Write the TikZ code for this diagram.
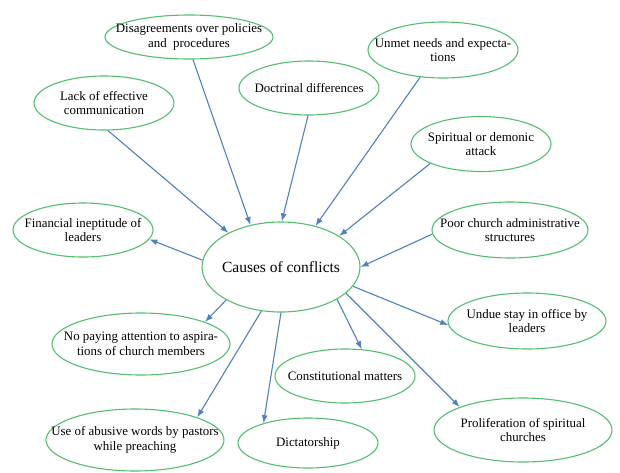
\documentclass[tikz,border=0pt]{standalone}
\usepackage{fontspec}
\setmainfont{Liberation Serif}
\usetikzlibrary{shapes,arrows.meta}
\definecolor{causegreen}{RGB}{84,190,110}
\definecolor{arrowblue}{RGB}{79,129,189}

\begin{document}
\begin{tikzpicture}[x=1pt,y=-1pt,>={Latex[length=8pt,width=6pt]},
		cause/.style={ellipse,draw=causegreen,line width=1.1pt,inner sep=-30pt,align=center,
			font=\rmfamily\fontsize{12.9}{14.5}\selectfont},
		link/.style={->,arrowblue,line width=1.1pt}]
		\useasboundingbox (0,0) rectangle (620,472);
		% centre
		\node[cause,minimum width=158pt,minimum height=90pt,font=\rmfamily\fontsize{15.5}{18}\selectfont] (conflicts) at (281,267) {Causes of conflicts};
		% causes above
		\node[cause,minimum width=168pt,minimum height=44pt] (disagree)   at (189,37)  {Disagreements over policies\\and~ procedures};
		\node[cause,minimum width=140pt,minimum height=54pt] (lackcomm)   at (104,103) {Lack of effective\\communication};
		\node[cause,minimum width=140pt,minimum height=54pt] (doctrinal)  at (309,88)  {Doctrinal differences};
		\node[cause,minimum width=150pt,minimum height=56pt] (unmet)      at (443,50)  {Unmet needs and expecta-\\tions};
		\node[cause,minimum width=140pt,minimum height=55pt] (spiritual)  at (481,144) {Spiritual or demonic\\attack};
		\node[cause,minimum width=156pt,minimum height=56pt] (poorstruct) at (510,230) {Poor church administrative\\structures};
		% causes below
		\node[cause,minimum width=140pt,minimum height=54pt] (financial)  at (83,230)  {Financial ineptitude of\\leaders};
		\node[cause,minimum width=178pt,minimum height=62pt] (nopaying)   at (141,344) {No paying attention to aspira-\\tions of church members};
		\node[cause,minimum width=178pt,minimum height=62pt] (abusive)    at (135,440) {Use of abusive words by pastors\\while preaching};
		\node[cause,minimum width=140pt,minimum height=50pt] (dictator)   at (308,443) {Dictatorship};
		\node[cause,minimum width=140pt,minimum height=54pt] (constitut)  at (345,376) {Constitutional matters};
		\node[cause,minimum width=158pt,minimum height=56pt] (undue)      at (527,321) {Undue stay in office by\\leaders};
		\node[cause,minimum width=178pt,minimum height=64pt] (prolif)     at (523,430) {Proliferation of spiritual\\churches};
		
		\path[link]
		(lackcomm.-82) edge (conflicts.147)
		(disagree.-80) edge (conflicts.126)
		(doctrinal.-92) edge (conflicts.89)
		(unmet.-130) edge (conflicts.50)
		(spiritual.-159) edge (conflicts.28)
		(poorstruct.-177) edge (conflicts.0)
		(conflicts.175) edge (financial.-8)
		(conflicts.-149) edge (nopaying.19)
		(conflicts.-114) edge (abusive.20)
		(conflicts.-90) edge (dictator.156)
		(conflicts.-30) edge (constitut.58)
		(conflicts.-15) edge (undue.-177)
		(conflicts.-22) edge (prolif.160);
\end{tikzpicture}
\end{document}
